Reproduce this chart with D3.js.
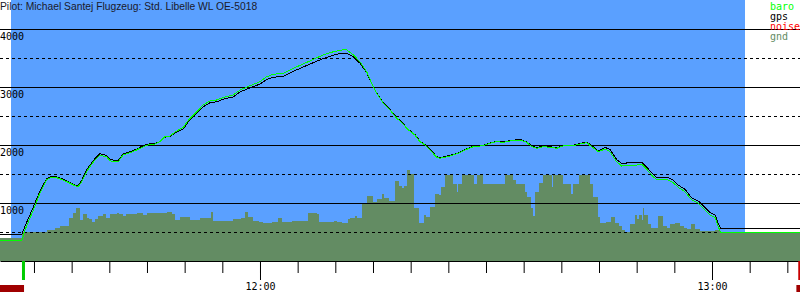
<!DOCTYPE html>
<html>
<head>
<meta charset="utf-8">
<script src="https://cdn.jsdelivr.net/npm/d3@7"></script>
<style>
  body { margin: 0; background: #fff; }
  svg { display: block; }
</style>
</head>
<body>
<svg width="800" height="300"></svg>
<script>
// times are minutes after 11:00, altitudes in metres
var title = "Pilot: Michael Santej Flugzeug: Std. Libelle WL OE-5018";

var viewMin = [25.49, 131.68];
var flightWindow = [26.95, 124.38];   // blue band
var takeoffMin = 28.54;
var landingMin = 131.45;
var noiseSpans = [[25.49, 28.68], [131.2, 131.68]];

var flightMin = [25.49, 28.37, 28.81, 29.91, 30.80, 31.69, 32.12, 33.01, 33.89, 34.78,
  35.44, 35.88, 36.33, 36.99, 37.43, 38.10, 38.76, 39.20, 39.65, 40.09,
  40.75, 41.19, 41.85, 42.74, 43.63, 44.51, 45.17, 46.06, 46.73, 47.39,
  48.05, 48.94, 49.82, 50.71, 51.60, 52.47, 53.36, 54.25, 55.13, 56.46,
  57.35, 58.67, 60.00, 60.89, 61.77, 63.09, 64.42, 65.75, 67.08, 68.40,
  69.73, 70.85, 71.51, 72.39, 73.27, 74.16, 74.83, 75.49, 76.37, 77.26,
  78.15, 78.58, 79.69, 80.58, 81.24, 81.90, 82.57, 83.46, 83.89, 84.56,
  85.66, 86.55, 87.44, 88.31, 89.64, 90.53, 91.42, 92.30, 93.41, 94.51,
  95.40, 96.07, 96.73, 97.61, 98.50, 99.38, 100.26, 101.59, 102.48, 103.37,
  104.03, 104.91, 105.80, 106.46, 107.35, 108.01, 108.68, 110.00, 110.67, 111.33,
  111.99, 112.66, 114.20, 114.86, 115.52, 116.41, 117.30, 118.18, 119.07, 119.73,
  120.40, 120.84, 121.16, 131.68];

var baro = [345, 345, 534, 879, 1172, 1397, 1431, 1436, 1397, 1340,
  1298, 1281, 1367, 1540, 1626, 1741, 1828, 1810, 1798, 1729,
  1712, 1712, 1828, 1867, 1914, 1971, 2000, 2017, 2057, 2143,
  2155, 2241, 2305, 2460, 2574, 2690, 2759, 2776, 2822, 2862,
  2948, 3022, 3091, 3177, 3219, 3236, 3322, 3397, 3478, 3552,
  3608, 3638, 3638, 3552, 3436, 3264, 3064, 2891, 2719, 2603,
  2460, 2419, 2259, 2172, 2057, 2000, 1914, 1788, 1771, 1788,
  1828, 1867, 1926, 1971, 1988, 2029, 2057, 2046, 2074, 2086,
  2046, 1971, 1943, 1971, 1960, 1943, 1983, 1988, 2017, 2040,
  1971, 1884, 1931, 1884, 1712, 1638, 1655, 1655, 1667, 1581,
  1483, 1397, 1397, 1350, 1271, 1195, 1052, 995, 879, 793,
  753, 591, 488, 488];

var gps = [453, 453, 600, 930, 1210, 1420, 1450, 1450, 1410, 1350,
  1310, 1300, 1390, 1570, 1650, 1770, 1850, 1835, 1820, 1750,
  1735, 1735, 1845, 1885, 1930, 1990, 2015, 2030, 2060, 2135,
  2145, 2225, 2280, 2440, 2550, 2660, 2730, 2745, 2790, 2830,
  2915, 2985, 3050, 3130, 3170, 3180, 3270, 3345, 3420, 3490,
  3550, 3585, 3580, 3520, 3410, 3250, 3060, 2895, 2725, 2610,
  2470, 2425, 2270, 2180, 2065, 2010, 1925, 1800, 1780, 1800,
  1835, 1875, 1935, 1980, 1995, 2035, 2065, 2055, 2080, 2095,
  2055, 1985, 1955, 1980, 1970, 1955, 1990, 1995, 2025, 2050,
  1990, 1900, 1960, 1920, 1750, 1680, 1690, 1690, 1700, 1620,
  1520, 1440, 1440, 1390, 1310, 1235, 1090, 1035, 920, 835,
  795, 640, 555, 555];

var gndMin = [25.49, 28.41, 31.69, 32.79, 33.45, 34.65, 35.22, 35.58, 36.11, 36.55,
  37.08, 37.34, 37.66, 38.10, 38.54, 39.20, 39.56, 40.09, 40.98, 41.29,
  41.86, 42.22, 43.72, 44.51, 44.96, 47.62, 48.28, 48.72, 49.38, 50.71,
  52.04, 53.46, 53.80, 56.46, 57.44, 58.01, 58.45, 59.11, 59.91, 60.36,
  61.63, 62.39, 62.92, 64.25, 66.37, 67.61, 67.83, 69.82, 70.18, 70.89,
  71.68, 71.95, 72.61, 72.92, 73.54, 74.25, 75.04, 75.57, 76.19, 76.46,
  77.13, 77.92, 78.41, 78.81, 79.12, 79.51, 79.87, 80.44, 81.11, 81.77,
  82.04, 82.57, 83.23, 83.76, 84.03, 84.56, 85.58, 86.11, 86.28, 86.82,
  88.37, 88.81, 89.56, 92.52, 93.54, 93.94, 95.14, 95.48, 95.97, 96.20,
  96.51, 97.08, 97.53, 98.72, 98.94, 100.26, 101.28, 101.51, 102.39, 103.81,
  104.17, 104.83, 105.13, 105.93, 106.59, 107.13, 107.66, 108.01, 108.45, 109.12,
  109.78, 110.01, 110.31, 110.67, 110.88, 110.98, 111.55, 111.91, 112.88, 113.54,
  113.99, 114.43, 115.09, 115.76, 116.29, 116.64, 117.17, 117.74, 118.41, 120.40,
  121.07, 131.68];

var gndAlt = [402, 495, 534, 564, 603, 747, 822, 919, 707, 805,
  747, 719, 678, 724, 781, 805, 736, 810, 822, 810,
  781, 810, 822, 793, 822, 850, 805, 707, 753, 707,
  747, 840, 690, 719, 747, 840, 764, 690, 678, 650,
  672, 736, 672, 690, 822, 805, 672, 684, 667, 655,
  724, 741, 776, 741, 983, 1121, 1017, 1069, 1155, 1086,
  1040, 1379, 1293, 1259, 1293, 1569, 1495, 914, 655, 793,
  759, 931, 1155, 1138, 1276, 1488, 1328, 1195, 1328, 1488,
  1328, 1488, 1328, 1488, 1402, 1328, 1190, 1109, 909, 776,
  1184, 1340, 1488, 1281, 1488, 1328, 1150, 1328, 1488, 1328,
  1103, 764, 650, 667, 759, 650, 603, 534, 505, 638,
  793, 724, 793, 707, 909, 793, 638, 574, 776, 603,
  574, 633, 660, 609, 574, 547, 638, 552, 517, 534,
  478, 478];

var gridSolid = [1000, 2000, 3000, 4000];
var gridDashed = [500, 1500, 2500, 3500];
var legendNames = ["baro", "gps", "noise", "gnd"];
var legendColors = ["#00ff00", "#000000", "#ff0000", "#638c63"];

var svg = d3.select("svg"),
    width = +svg.attr("width"),
    plotBottom = 261;

var base = new Date(2000, 0, 1, 11, 0, 0);
function tm(m) { return new Date(base.getTime() + m * 60000); }

var x = d3.scaleTime().domain(viewMin.map(tm)).range([0, width]);
var y = d3.scaleLinear().domain([0, 4000]).range([plotBottom, 29]);

// blue band of the flight window
svg.append("rect")
    .attr("x", x(tm(flightWindow[0])))
    .attr("y", 0)
    .attr("width", x(tm(flightWindow[1])) - x(tm(flightWindow[0])))
    .attr("height", plotBottom)
    .attr("fill", "#5aa0ff");

// ground profile
var gnd = gndMin.map(function(m, i) { return {t: tm(m), v: gndAlt[i]}; });
svg.append("path")
    .datum(gnd)
    .attr("fill", "#638c63")
    .attr("shape-rendering", "crispEdges")
    .attr("d", d3.area()
        .curve(d3.curveStepAfter)
        .x(function(d) { return x(d.t); })
        .y0(plotBottom)
        .y1(function(d) { return y(d.v); }));

// grid lines
svg.selectAll(".gs").data(gridSolid).enter().append("line")
    .attr("x1", 0).attr("x2", width)
    .attr("y1", function(d) { return Math.round(y(d)) + 0.5; })
    .attr("y2", function(d) { return Math.round(y(d)) + 0.5; })
    .attr("stroke", "#000");
svg.selectAll(".gd").data(gridDashed).enter().append("line")
    .attr("x1", 0).attr("x2", width)
    .attr("y1", function(d) { return Math.round(y(d)) + 0.5; })
    .attr("y2", function(d) { return Math.round(y(d)) + 0.5; })
    .attr("stroke", "#000")
    .attr("stroke-dasharray", "3,3");

// y labels
svg.selectAll(".yl").data(gridSolid).enter().append("text")
    .attr("x", 0)
    .attr("y", function(d) { return Math.round(y(d)) + 11; })
    .attr("font-family", "DejaVu Sans Mono")
    .attr("font-size", 10)
    .attr("fill", "#000")
    .text(function(d) { return d; });

// altitude lines
var line = d3.line()
    .x(function(d) { return x(d.t); })
    .y(function(d) { return y(d.v); });
var gpsData = flightMin.map(function(m, i) { return {t: tm(m), v: gps[i]}; });
var baroData = flightMin.map(function(m, i) { return {t: tm(m), v: baro[i]}; });
svg.append("path").datum(gpsData)
    .attr("fill", "none").attr("stroke", "#000").attr("stroke-width", 1)
    .attr("shape-rendering", "crispEdges")
    .attr("d", line);
svg.append("path").datum(baroData)
    .attr("fill", "none").attr("stroke", "#00ff00").attr("stroke-width", 1)
    .attr("shape-rendering", "crispEdges")
    .attr("d", line);

// time axis
var minor = svg.append("g")
    .attr("transform", "translate(0," + plotBottom + ")")
    .call(d3.axisBottom(x).ticks(d3.timeMinute.every(5)).tickSize(12).tickSizeOuter(0).tickFormat(""));
minor.select(".domain").attr("stroke", "#000");
var major = svg.append("g")
    .attr("transform", "translate(0," + plotBottom + ")")
    .call(d3.axisBottom(x).ticks(d3.timeHour.every(1)).tickSize(19).tickPadding(3)
        .tickSizeOuter(0).tickFormat(d3.timeFormat("%H:%M")));
major.select(".domain").remove();
major.selectAll("text")
    .attr("font-family", "DejaVu Sans Mono")
    .attr("font-size", 10)
    .attr("fill", "#000");

// takeoff / landing markers
svg.append("rect")
    .attr("x", x(tm(takeoffMin)) - 1).attr("y", plotBottom)
    .attr("width", 3).attr("height", 19)
    .attr("fill", "#00cc00");
svg.append("rect")
    .attr("x", x(tm(landingMin))).attr("y", plotBottom)
    .attr("width", 3).attr("height", 19)
    .attr("fill", "#c80000");

// noise bars
svg.selectAll(".nz").data(noiseSpans).enter().append("rect")
    .attr("x", function(d) { return x(tm(d[0])); })
    .attr("y", 285)
    .attr("width", function(d) { return x(tm(d[1])) - x(tm(d[0])); })
    .attr("height", 7)
    .attr("fill", "#a00000");

// legend
svg.selectAll(".lg").data(legendNames).enter().append("text")
    .attr("x", 770)
    .attr("y", function(d, i) { return 10 + i * 10; })
    .attr("font-family", "DejaVu Sans Mono")
    .attr("font-size", 10)
    .attr("fill", function(d, i) { return legendColors[i]; })
    .text(function(d) { return d; });

// title
svg.append("text")
    .attr("x", 0).attr("y", 10)
    .attr("font-family", "Liberation Sans")
    .attr("font-size", 10.3)
    .attr("fill", "#1a1a2a")
    .text(title);
</script>
</body>
</html>
